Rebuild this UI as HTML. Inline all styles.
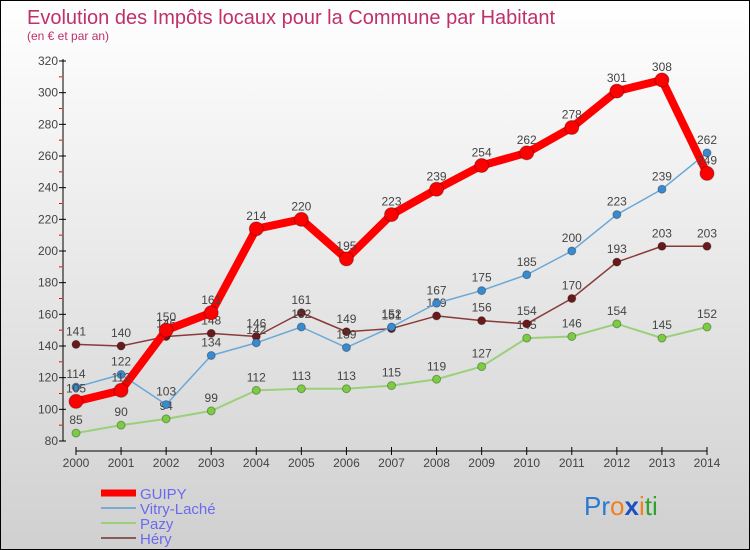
<!DOCTYPE html>
<html><head><meta charset="utf-8"><style>
body{margin:0}
#c{width:748px;height:548px;border:1px solid #000;background:linear-gradient(#fff,#d0d0d0);position:relative;overflow:hidden;font-family:"Liberation Sans","DejaVu Sans",sans-serif}
svg{position:absolute;left:0;top:0}
</style></head><body>
<div id="c">
<svg id="s" width="748" height="548">
<text x="26" y="23" font-size="20" fill="#c0306a">Evolution des Impôts locaux pour la Commune par Habitant</text>
<text x="26" y="39" font-size="12" fill="#c0306a">(en € et par an)</text>
<g id="ax"></g><g id="ser"></g>
<g>
<line x1="100" y1="492" x2="135" y2="492" stroke="#f00" stroke-width="7"/>
<text x="139" y="498" font-size="15" fill="#6a6af0">GUIPY</text>
<line x1="100" y1="507" x2="135" y2="507" stroke="#7aaad0" stroke-width="2"/>
<text x="139" y="513" font-size="15" fill="#6a6af0">Vitry-Laché</text>
<line x1="100" y1="522" x2="135" y2="522" stroke="#9ad07a" stroke-width="2"/>
<text x="139" y="528" font-size="15" fill="#6a6af0">Pazy</text>
<line x1="100" y1="537" x2="135" y2="537" stroke="#8a5a5a" stroke-width="2"/>
<text x="139" y="543" font-size="15" fill="#6a6af0">Héry</text>
</g>
<text x="583" y="514" font-size="26"><tspan fill="#2a7ad0">Pr</tspan><tspan fill="#f08020">o</tspan><tspan fill="#1a50c0" font-weight="bold">x</tspan><tspan fill="#f08020">i</tspan><tspan fill="#30a030">ti</tspan></text>
</svg></div>
<script>
const years=[2000,2001,2002,2003,2004,2005,2006,2007,2008,2009,2010,2011,2012,2013,2014];
const guipy=[105,112,150,161,214,220,195,223,239,254,262,278,301,308,249];
const vitry=[114,122,103,134,142,152,139,152,167,175,185,200,223,239,262];
const pazy=[85,90,94,99,112,113,113,115,119,127,145,146,154,145,152];
const hery=[141,140,146,148,146,161,149,151,159,156,154,170,193,203,203];
const yTicks=[80,100,120,140,160,180,200,220,240,260,280,300,320];
const NS="http://www.w3.org/2000/svg";
const X=i=>75+i*(706-75)/(years.length-1);
const Y=v=>440-(v-80)*380/240;
function mk(t,a,p){const e=document.createElementNS(NS,t);for(const k in a)e.setAttribute(k,a[k]);p.appendChild(e);return e;}
const ax=document.getElementById('ax'),ser=document.getElementById('ser');
mk('line',{x1:62,y1:58,x2:62,y2:440,stroke:'#000'},ax);
mk('line',{x1:75,y1:450,x2:706,y2:450,stroke:'#000'},ax);
yTicks.forEach(v=>{mk('line',{x1:58,y1:Y(v),x2:65,y2:Y(v),stroke:'#000'},ax);
if(v<320)mk('line',{x1:58,y1:Y(v+10),x2:61,y2:Y(v+10),stroke:'#f00'},ax);
const t=mk('text',{x:57,y:Y(v)+4,'text-anchor':'end','font-size':12,fill:'#444'},ax);t.textContent=v;
});
years.forEach((y,i)=>{mk('line',{x1:X(i),y1:446,x2:X(i),y2:454,stroke:'#000'},ax);
const t=mk('text',{x:X(i),y:466,'text-anchor':'middle','font-size':12,fill:'#444'},ax);t.textContent=y;
});
function series(d,col,w,r,dot,name){const g=mk('g',{},ser);

mk('polyline',{points:d.map((v,i)=>X(i)+','+Y(v)).join(' '),fill:'none',stroke:col,'stroke-width':w,'stroke-linejoin':'round'},g);
d.forEach((v,i)=>{const c=mk('circle',{cx:X(i),cy:Y(v),r:r,fill:dot,stroke:'rgba(0,0,0,0.3)'},g);

const t=mk('text',{x:X(i),y:Y(v)-9,'text-anchor':'middle','font-size':12,fill:'#444'},g);t.textContent=v;});}
series(pazy,'#9ad07a',2,4,'#7acc40','pazy');
series(hery,'#8a3a3a',1.5,4,'#6a1a1a','hery');
series(vitry,'#6aa8d8',1.5,4,'#3a8ad0','vitry');
series(guipy,'#f00',8,7,'#f00','guipy');
</script></body></html>
